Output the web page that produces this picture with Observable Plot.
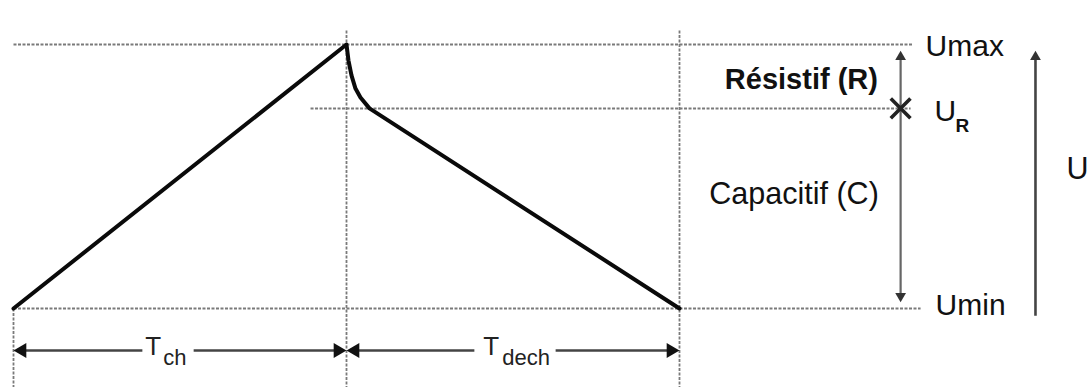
<!DOCTYPE html>
<html><head><meta charset="utf-8">
<script src="https://cdn.jsdelivr.net/npm/d3@7"></script>
<script src="https://cdn.jsdelivr.net/npm/@observablehq/plot@0.6"></script>
<style>body{margin:0;background:#fff}#chart svg{background:#fff}</style>
</head><body><div id="chart"></div>
<script>
// Waveform: time (arbitrary units) and voltage (arbitrary units)
const time    = [0, 10, 10.06, 10.15, 10.27, 10.42, 10.69, 20];
const voltage = [0, 10, 9.39, 8.83, 8.33, 7.99, 7.58, 0];
// Voltage levels
const levelNames  = ["Umax", "UR", "Umin"];
const levelValues = [10, 7.58, 0];
// Phase boundaries (Tch from 0 to 10, Tdech from 10 to 20)
const phaseBounds = [0, 10, 20];
const phaseMain = ["T", "T"];
const phaseSub  = ["ch", "dech"];
// Region labels
const regionLabels = ["Résistif (R)", "Capacitif (C)"];

const font = "'Liberation Sans', Arial, Helvetica, sans-serif";
const wave = time.map((t, i) => ({t, u: voltage[i]}));

// annotation anchor positions (data units)
const xAnn = 26.64, xU = 30.69, yT = -1.59, yBottom = -3;

const hDots = [
  {x1: phaseBounds[0], x2: 27.0, y: levelValues[0]},
  {x1: 8.92, x2: 26.94, y: levelValues[1]},
  {x1: phaseBounds[0], x2: 27.24, y: levelValues[2]}
];
const vDots = [
  {x: phaseBounds[0], y1: levelValues[2], y2: yBottom},
  {x: phaseBounds[1], y1: 10.53, y2: yBottom},
  {x: phaseBounds[2], y1: 10.53, y2: yBottom}
];
const bottomSegs = [
  {x1: phaseBounds[0] + 0.2, x2: 3.87}, {x1: 5.41, x2: phaseBounds[1] - 0.2},
  {x1: phaseBounds[1] + 0.2, x2: 13.84}, {x1: 16.28, x2: phaseBounds[2] - 0.2}
];
const hHeads = [
  {x: phaseBounds[0] + 0.257, rot: -90}, {x: phaseBounds[1] - 0.257, rot: 90},
  {x: phaseBounds[1] + 0.257, rot: -90}, {x: phaseBounds[2] - 0.257, rot: 90}
];
const vHeads = [
  {x: xAnn, y: 9.53, rot: 0}, {x: xAnn, y: 0.47, rot: 180}, {x: xU, y: 9.53, rot: 0}
];

const textsStart = [
  {x: 27.39, y: 9.91, s: levelNames[0]},
  {x: 27.69, y: 0.10, s: levelNames[2]},
  {x: 27.66, y: 7.47, s: levelNames[1][0]}
];
const textsMiddle = [
  {x: 23.44, y: 4.34, s: regionLabels[1]},
  {x: 31.95, y: 5.29, s: "U"}
];

const chart = Plot.plot({
  width: 1089, height: 387,
  marginTop: 0, marginRight: 0, marginBottom: 0, marginLeft: 0,
  x: {domain: [0, 20], range: [13, 679], axis: null},
  y: {domain: [0, 10], range: [308, 44], axis: null},
  style: {background: "#fff", overflow: "visible"},
  marks: [
    Plot.link(hDots, {x1: "x1", x2: "x2", y1: "y", y2: "y", stroke: "#7a7a7a", strokeWidth: 2, strokeDasharray: "3,1.5"}),
    Plot.link(vDots, {x1: "x", x2: "x", y1: "y1", y2: "y2", stroke: "#7a7a7a", strokeWidth: 1.8, strokeDasharray: "3,1.5"}),
    Plot.line(wave, {x: "t", y: "u", stroke: "#0a0a0a", strokeWidth: 4, strokeLinejoin: "round"}),
    // resistive/capacitive double arrow
    Plot.link([{y1: 9.53, y2: 0.47}], {x1: () => xAnn, x2: () => xAnn, y1: "y1", y2: "y2", stroke: "#666", strokeWidth: 2.2}),
    // total U arrow
    Plot.link([{y1: -0.27, y2: 9.53}], {x1: () => xU, x2: () => xU, y1: "y1", y2: "y2", stroke: "#444", strokeWidth: 2.6}),
    Plot.dot(vHeads, {x: "x", y: "y", rotate: "rot", symbol: "triangle", r: 4, fill: "#333", stroke: "none"}),
    // bottom period arrows
    Plot.link(bottomSegs, {x1: "x1", x2: "x2", y1: () => yT, y2: () => yT, stroke: "#444", strokeWidth: 2.6}),
    Plot.dot(hHeads, {x: "x", y: () => yT, rotate: "rot", symbol: "triangle", r: 5.5, fill: "#111", stroke: "none"}),
    // UR cross
    Plot.dot([{x: xAnn, y: levelValues[1]}], {x: "x", y: "y", symbol: "times", r: 9, stroke: "#222", strokeWidth: 3.6}),
    // labels
    Plot.text(textsStart, {x: "x", y: "y", text: "s", textAnchor: "start", lineAnchor: "middle", fontSize: 30, fontFamily: font, fill: "#111"}),
    Plot.text(textsMiddle, {x: "x", y: "y", text: "s", textAnchor: "middle", lineAnchor: "middle", fontSize: 30.5, fontFamily: font, fill: "#111"}),
    Plot.text([{x: 23.66, y: 8.67}], {x: "x", y: "y", text: () => regionLabels[0], textAnchor: "middle", lineAnchor: "middle", fontSize: 29, fontWeight: "bold", fontFamily: font, fill: "#111"}),
    Plot.text([{x: 28.29, y: 6.9}], {x: "x", y: "y", text: () => levelNames[1].slice(1), textAnchor: "start", lineAnchor: "middle", fontSize: 19, fontWeight: "bold", fontFamily: font, fill: "#111"}),
    Plot.text([{x: 3.96}, {x: 14.11}], {x: "x", y: () => -1.43, text: (d, i) => phaseMain[i], textAnchor: "start", lineAnchor: "middle", fontSize: 26, fontFamily: font, fill: "#222"}),
    Plot.text([{x: 4.50}, {x: 14.68}], {x: "x", y: () => -1.89, text: (d, i) => phaseSub[i], textAnchor: "start", lineAnchor: "middle", fontSize: 22, fontFamily: font, fill: "#222"})
  ]
});
document.getElementById("chart").appendChild(chart);
</script>
</body></html>
